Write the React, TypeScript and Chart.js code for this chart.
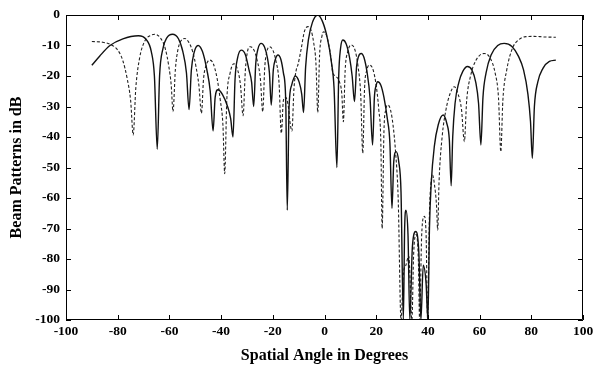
import React, { useEffect, useRef } from "react";
import { Chart, registerables } from "chart.js";

Chart.register(...registerables);

// Spatial angle (deg) and level (dB) of the solid beam pattern
const solidDeg = [
  -90, -87, -83, -78, -72, -69, -67, -65.8, -64.7, -63.8, -62.5, -61, -58.8, -56.5, -54.8, -53.4, -52.4,
  -51.5, -50.5, -48.9, -47.2, -45.5, -44.2, -43.1, -42.3, -41.2, -39.5, -37.5, -36.3, -35.4, -34.6, -33.6,
  -32.2, -30.6, -29.2, -28.2, -27.4, -26.6, -25.7, -24.5, -23.2, -22.1, -21.3, -20.6, -19.8, -19, -18,
  -16.9, -15.9, -15, -14.4, -13.7, -12.7, -11.3, -9.8, -8.8, -8.1, -7.3, -6.2, -4.7, -2.6, -0.6, 1.2, 2.6,
  3.7, 4.8, 5.5, 6.2, 7.1, 8.4, 9.7, 10.7, 11.6, 12.4, 13.2, 14.2, 15.3, 16.5, 17.6, 18.6, 19.3, 20, 20.6,
  21.8, 23, 24.3, 25.3, 26.1, 26.8, 27.7, 28.7, 29.6, 30.5, 31, 31.5, 32.3, 33, 34, 35.3, 36.5, 37.3, 38.2,
  39.3, 40, 40.6, 41.3, 42.5, 44, 45.9, 47.3, 48.3, 49, 49.6, 50.5, 52, 53.5, 55.3, 57, 58.5, 59.6, 60.5,
  61.3, 62.5, 64.5, 67, 69.5, 72.5, 75, 77, 78.7, 79.7, 80.4, 81.2, 82.5, 84.5, 87, 89.5,
];
const solidDb = [
  -16.5, -13.5, -10, -7.8, -6.8, -8, -12, -20, -44, -20, -11, -7.5, -6.3, -7.8, -12, -19, -31,
  -18, -12.5, -10, -12, -18, -25, -38, -27, -24.5, -26, -30, -34, -40, -21, -14,
  -11.5, -13, -18, -22, -30, -16, -11, -9.3, -10.5, -14, -19, -29.5, -18, -14.5, -13.1,
  -14.5, -19, -28, -64, -30, -23, -20, -22, -26, -32, -17, -8, -2.5, 0, -2.5, -8, -15,
  -24, -50, -20, -11, -8.2, -9.5, -14, -20, -28.4, -17, -13.5, -12.6, -14, -19, -27, -42.6, -27, -23, -21.9,
  -23, -27, -34, -42, -63.4, -48, -44.8, -48, -58, -100, -70, -64, -72, -100, -76, -71, -78, -100, -82,
  -88, -100, -70, -55, -43, -36, -32.8, -35.5, -41, -56, -40, -29, -22, -18.5, -16.9, -18, -22, -29, -42.6,
  -27, -19, -13, -10, -9.3, -10.3, -13.5, -18, -26, -35, -47, -30, -22, -17.5, -15.2, -14.8,
];

// Spatial angle (deg) and level (dB) of the dashed beam pattern
const dashedDeg = [
  -90, -86, -83, -80, -78, -76.3, -75, -74, -73, -71.5, -69.5, -67, -65.6, -63.5, -61.6, -60.2, -59.3,
  -58.6, -57.7, -56.6, -55, -54, -52.6, -51, -49.7, -48.6, -47.6, -46.8, -45.8, -44.4, -43, -41.5, -40.3,
  -39.3, -38.6, -37.8, -36.5, -35, -33.6, -32.5, -31.5, -30.6, -29.8, -28.7, -27.3, -26, -24.8, -23.9,
  -23.1, -22.3, -21.3, -20, -18.8, -17.6, -16.7, -15.9, -15, -14, -13.2, -12.6, -11.8, -10.8, -10.3, -9,
  -7.8, -6.4, -5.2, -4.2, -3.3, -2.6, -1.9, -1, -0.4, 0.7, 1.7, 2.5, 3.1, 4.2, 5.8, 6.7, 7.3, 8, 9, 10.3,
  11.8, 13, 14, 14.8, 15.5, 16.4, 17.4, 18.6, 19.8, 21, 21.8, 22.3, 23, 23.7, 24.5, 25.5, 26.5, 27.5, 28.5,
  29.6, 30.5, 31.5, 32.6, 33.8, 34.5, 35.5, 36.3, 36.8, 37.6, 38.6, 39.3, 39.9, 40.6, 41.2, 41.8, 42.6,
  43.3, 43.8, 44.3, 45.5, 47, 48.5, 50.2, 51.7, 53, 54.1, 55, 56.5, 58.5, 61.8, 64, 66, 67.3, 68.2, 69, 70.5,
  72.7, 75, 77.9, 81, 85, 89.5,
];
const dashedDb = [
  -8.7, -8.9, -9.6, -11.5, -15, -21, -28, -39.3, -24, -14, -8.5, -6.6, -6.3, -7.5, -11, -17, -23,
  -31.7, -18, -11, -8, -7.7, -8.8, -12, -17, -23, -32.2, -21, -16.5, -14.8, -16, -21, -28,
  -36, -52, -28, -19, -16, -18, -23, -33, -18, -12, -10.4, -11.5, -15, -21, -31.7,
  -17, -12, -10.4, -11.5, -15, -22, -38.8, -28, -27, -30, -36, -38, -24, -17.5, -16.4, -11,
  -5.5, -3.8, -5, -9, -16, -32, -13, -7, -5.5, -6.5, -10, -14, -18.6, -20, -21.9, -26, -35, -18, -12, -9.8,
  -11.5, -17, -26, -45.3, -24, -18, -16.4, -17.5, -22, -31, -42, -70, -38, -31, -29.5, -31, -36, -45, -60,
  -100, -85, -82, -79, -100, -78, -72, -80, -100, -72, -66, -72, -100, -65, -55, -52.5, -56,
  -62, -70.5, -55, -40, -31, -26, -23.5, -26, -31, -41.5, -28, -20, -15, -12.6, -14, -19, -27, -44.8, -28, -18,
  -10.9, -8.2, -7.1, -7, -7.2, -7.3,
];

const xTicks = [-100, -80, -60, -40, -20, 0, 20, 40, 60, 80, 100];
const yTicks = [0, -10, -20, -30, -40, -50, -60, -70, -80, -90, -100];

const SERIF = "'Liberation Serif', 'DejaVu Serif', serif";

const framePlugin = {
  id: "frameTicks",
  afterDatasetsDraw(chart: any) {
    const { ctx, chartArea } = chart;
    const { left, right, top, bottom } = chartArea;
    const xs = chart.scales.x;
    const ys = chart.scales.y;
    const len = 5;
    ctx.save();
    ctx.strokeStyle = "#000";
    ctx.lineWidth = 1;
    ctx.beginPath();
    ctx.rect(left + 0.5, top + 0.5, right - left - 1, bottom - top - 1);
    for (const v of xTicks) {
      const px = Math.round(xs.getPixelForValue(v)) + 0.5;
      ctx.moveTo(px, bottom);
      ctx.lineTo(px, bottom - len);
      ctx.moveTo(px, top);
      ctx.lineTo(px, top + len);
    }
    for (const v of yTicks) {
      const py = Math.round(ys.getPixelForValue(v)) + 0.5;
      ctx.moveTo(left, py);
      ctx.lineTo(left + len, py);
      ctx.moveTo(right, py);
      ctx.lineTo(right - len, py);
    }
    ctx.stroke();
    ctx.restore();
  },
};

export default function App() {
  const ref = useRef<HTMLCanvasElement | null>(null);

  useEffect(() => {
    if (!ref.current) return;
    const solid = solidDeg.map((x, i) => ({ x, y: solidDb[i] }));
    const dashed = dashedDeg.map((x, i) => ({ x, y: dashedDb[i] }));
    const chart = new Chart(ref.current, {
      type: "line",
      data: {
        datasets: [
          {
            label: "Pattern A",
            data: solid,
            borderColor: "#111",
            borderWidth: 1.4,
            pointRadius: 0,
            cubicInterpolationMode: "monotone",
          },
          {
            label: "Pattern B",
            data: dashed,
            borderColor: "#222",
            borderWidth: 1.1,
            borderDash: [3, 2],
            pointRadius: 0,
            cubicInterpolationMode: "monotone",
          },
        ],
      },
      options: {
        responsive: false,
        animation: false,
        events: [],
        layout: { padding: { top: 15, right: 16, left: 0, bottom: 0 } },
        plugins: { legend: { display: false }, tooltip: { enabled: false } },
        scales: {
          x: {
            type: "linear",
            min: -100,
            max: 100,
            afterBuildTicks: (s: any) => {
              s.ticks = xTicks.map((v) => ({ value: v }));
            },
            afterFit: (s: any) => {
              s.height = 48;
            },
            grid: { display: false, drawTicks: false },
            border: { display: false },
            ticks: {
              padding: 3,
              color: "#000",
              maxRotation: 0,
              autoSkip: false,
              font: { family: SERIF, size: 13.5, weight: "bold" },
            },
            title: {
              display: true,
              text: "Spatial Angle in Degrees",
              color: "#000",
              padding: { top: 0, bottom: 3 },
              font: { family: SERIF, size: 16, weight: "bold" },
            },
          },
          y: {
            type: "linear",
            min: -100,
            max: 0,
            afterBuildTicks: (s: any) => {
              s.ticks = yTicks.map((v) => ({ value: v }));
            },
            afterFit: (s: any) => {
              s.width = 66;
            },
            grid: { display: false, drawTicks: false },
            border: { display: false },
            ticks: {
              padding: 6,
              color: "#000",
              autoSkip: false,
              font: { family: SERIF, size: 13.5, weight: "bold" },
            },
            title: {
              display: true,
              text: "Beam Patterns in dB",
              color: "#000",
              padding: { top: 7, bottom: 0 },
              font: { family: SERIF, size: 16, weight: "bold" },
            },
          },
        },
      },
      plugins: [framePlugin],
    });
    return () => chart.destroy();
  }, []);

  return (
    <div style={{ position: "absolute", left: 0, top: 0, width: 599, height: 368, background: "#fff" }}>
      <canvas ref={ref} width={599} height={368} style={{ display: "block" }} />
    </div>
  );
}
